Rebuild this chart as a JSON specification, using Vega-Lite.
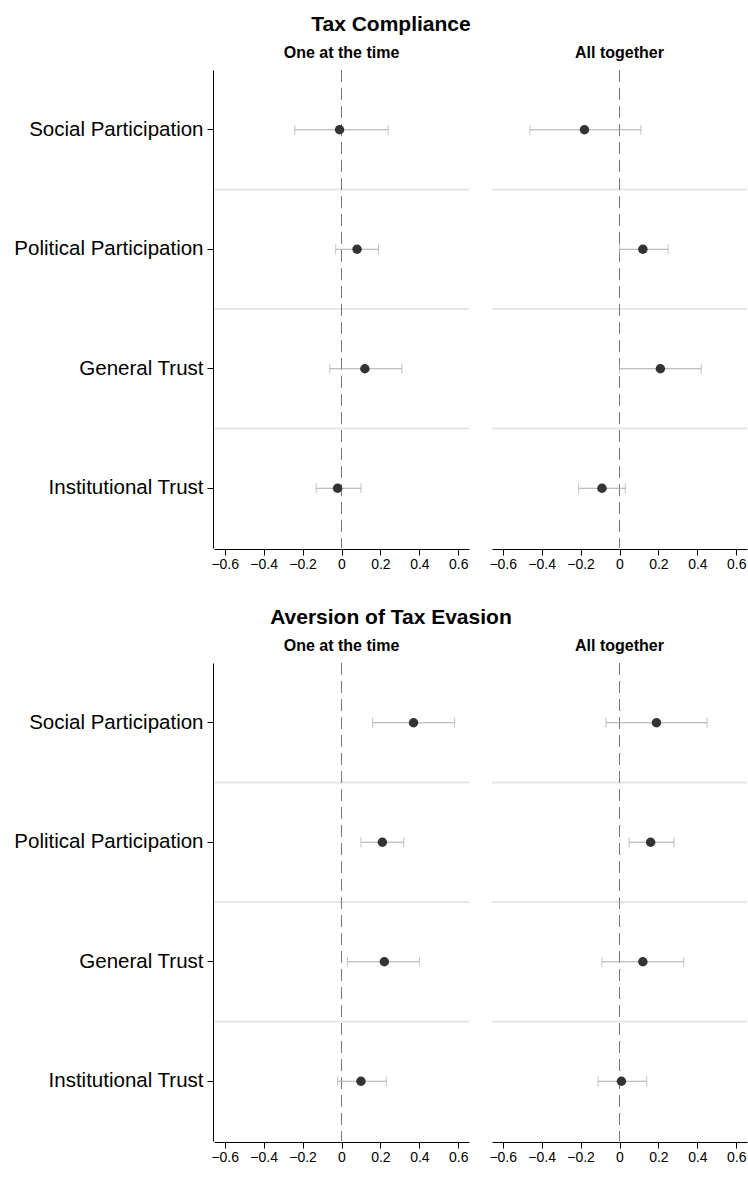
{
  "$schema": "https://vega.github.io/schema/vega-lite/v6.json",
  "background": "white",
  "padding": {"left": 13, "top": 14, "right": 0, "bottom": 0},
  "config": {
    "font": "Liberation Sans",
    "view": {"stroke": null},
    "axis": {"domainColor": "black", "tickColor": "black", "labelColor": "black", "grid": false},
    "title": {"fontSize": 21, "fontWeight": "bold", "anchor": "middle", "offset": 10, "dx": 10},
    "header": {"labelFontSize": 16, "labelFontWeight": "bold", "labelColor": "black", "title": null, "labelPadding": 8},
    "facet": {"spacing": 21},
    "concat": {"spacing": 36}
  },
  "data": {
    "values": [
      {"outcome": "Tax Compliance", "model": "One at the time", "var": "Social Participation", "est": -0.01, "lo": -0.24, "hi": 0.24},
      {"outcome": "Tax Compliance", "model": "One at the time", "var": "Political Participation", "est": 0.08, "lo": -0.03, "hi": 0.19},
      {"outcome": "Tax Compliance", "model": "One at the time", "var": "General Trust", "est": 0.12, "lo": -0.06, "hi": 0.31},
      {"outcome": "Tax Compliance", "model": "One at the time", "var": "Institutional Trust", "est": -0.02, "lo": -0.13, "hi": 0.10},
      {"outcome": "Tax Compliance", "model": "All together", "var": "Social Participation", "est": -0.18, "lo": -0.46, "hi": 0.11},
      {"outcome": "Tax Compliance", "model": "All together", "var": "Political Participation", "est": 0.12, "lo": 0.0, "hi": 0.25},
      {"outcome": "Tax Compliance", "model": "All together", "var": "General Trust", "est": 0.21, "lo": 0.0, "hi": 0.42},
      {"outcome": "Tax Compliance", "model": "All together", "var": "Institutional Trust", "est": -0.09, "lo": -0.21, "hi": 0.03},
      {"outcome": "Aversion of Tax Evasion", "model": "One at the time", "var": "Social Participation", "est": 0.37, "lo": 0.16, "hi": 0.58},
      {"outcome": "Aversion of Tax Evasion", "model": "One at the time", "var": "Political Participation", "est": 0.21, "lo": 0.10, "hi": 0.32},
      {"outcome": "Aversion of Tax Evasion", "model": "One at the time", "var": "General Trust", "est": 0.22, "lo": 0.03, "hi": 0.40},
      {"outcome": "Aversion of Tax Evasion", "model": "One at the time", "var": "Institutional Trust", "est": 0.10, "lo": -0.02, "hi": 0.23},
      {"outcome": "Aversion of Tax Evasion", "model": "All together", "var": "Social Participation", "est": 0.19, "lo": -0.07, "hi": 0.45},
      {"outcome": "Aversion of Tax Evasion", "model": "All together", "var": "Political Participation", "est": 0.16, "lo": 0.05, "hi": 0.28},
      {"outcome": "Aversion of Tax Evasion", "model": "All together", "var": "General Trust", "est": 0.12, "lo": -0.09, "hi": 0.33},
      {"outcome": "Aversion of Tax Evasion", "model": "All together", "var": "Institutional Trust", "est": 0.01, "lo": -0.11, "hi": 0.14}
    ]
  },
  "vconcat": [
    {
      "title": "Tax Compliance",
      "transform": [{"filter": "datum.outcome == 'Tax Compliance'"}],
      "facet": {"column": {"field": "model", "sort": ["One at the time", "All together"]}},
      "spec": {
        "width": 255,
        "height": 478,
        "encoding": {
          "y": {"field": "var", "type": "nominal", "sort": ["Social Participation", "Political Participation", "General Trust", "Institutional Trust"],
            "scale": {"paddingInner": 0, "paddingOuter": 0},
            "axis": {"title": null, "labelFontSize": 20.5, "labelLimit": 400, "labelPadding": 4, "tickSize": 6}}
        },
        "layer": [
          {"transform": [{"filter": "datum.var != 'Institutional Trust'"}],
           "mark": {"type": "rule", "color": "#e6e6e6", "strokeWidth": 2},
           "encoding": {"y": {"field": "var", "type": "nominal", "bandPosition": 1, "sort": ["Social Participation", "Political Participation", "General Trust", "Institutional Trust"]}}},
          {"mark": {"type": "rule", "color": "#777", "strokeDash": [12, 6], "strokeWidth": 1},
           "encoding": {"x": {"datum": 0, "type": "quantitative"}, "y": null}},
          {"mark": {"type": "rule", "color": "#aaa", "strokeWidth": 1},
           "encoding": {"x": {"field": "lo", "type": "quantitative", "scale": {"domain": [-0.655, 0.655], "nice": false},
              "axis": {"title": null, "values": [-0.6, -0.4, -0.2, 0, 0.2, 0.4, 0.6], "labelFontSize": 14, "labelExpr": "datum.value == 0 ? '0' : format(datum.value, '.1f')", "tickSize": 6}},
             "x2": {"field": "hi"}}},
          {"mark": {"type": "tick", "color": "#aaa", "orient": "vertical", "size": 10, "thickness": 1},
           "encoding": {"x": {"field": "lo", "type": "quantitative"}}},
          {"mark": {"type": "tick", "color": "#aaa", "orient": "vertical", "size": 10, "thickness": 1},
           "encoding": {"x": {"field": "hi", "type": "quantitative"}}},
          {"mark": {"type": "point", "filled": true, "color": "#333", "size": 90, "opacity": 1},
           "encoding": {"x": {"field": "est", "type": "quantitative"}}}
        ]
      }
    },
    {
      "title": "Aversion of Tax Evasion",
      "transform": [{"filter": "datum.outcome == 'Aversion of Tax Evasion'"}],
      "facet": {"column": {"field": "model", "sort": ["One at the time", "All together"]}},
      "spec": {
        "width": 255,
        "height": 478,
        "encoding": {
          "y": {"field": "var", "type": "nominal", "sort": ["Social Participation", "Political Participation", "General Trust", "Institutional Trust"],
            "scale": {"paddingInner": 0, "paddingOuter": 0},
            "axis": {"title": null, "labelFontSize": 20.5, "labelLimit": 400, "labelPadding": 4, "tickSize": 6}}
        },
        "layer": [
          {"transform": [{"filter": "datum.var != 'Institutional Trust'"}],
           "mark": {"type": "rule", "color": "#e6e6e6", "strokeWidth": 2},
           "encoding": {"y": {"field": "var", "type": "nominal", "bandPosition": 1, "sort": ["Social Participation", "Political Participation", "General Trust", "Institutional Trust"]}}},
          {"mark": {"type": "rule", "color": "#777", "strokeDash": [12, 6], "strokeWidth": 1},
           "encoding": {"x": {"datum": 0, "type": "quantitative"}, "y": null}},
          {"mark": {"type": "rule", "color": "#aaa", "strokeWidth": 1},
           "encoding": {"x": {"field": "lo", "type": "quantitative", "scale": {"domain": [-0.655, 0.655], "nice": false},
              "axis": {"title": null, "values": [-0.6, -0.4, -0.2, 0, 0.2, 0.4, 0.6], "labelFontSize": 14, "labelExpr": "datum.value == 0 ? '0' : format(datum.value, '.1f')", "tickSize": 6}},
             "x2": {"field": "hi"}}},
          {"mark": {"type": "tick", "color": "#aaa", "orient": "vertical", "size": 10, "thickness": 1},
           "encoding": {"x": {"field": "lo", "type": "quantitative"}}},
          {"mark": {"type": "tick", "color": "#aaa", "orient": "vertical", "size": 10, "thickness": 1},
           "encoding": {"x": {"field": "hi", "type": "quantitative"}}},
          {"mark": {"type": "point", "filled": true, "color": "#333", "size": 90, "opacity": 1},
           "encoding": {"x": {"field": "est", "type": "quantitative"}}}
        ]
      }
    }
  ]
}
